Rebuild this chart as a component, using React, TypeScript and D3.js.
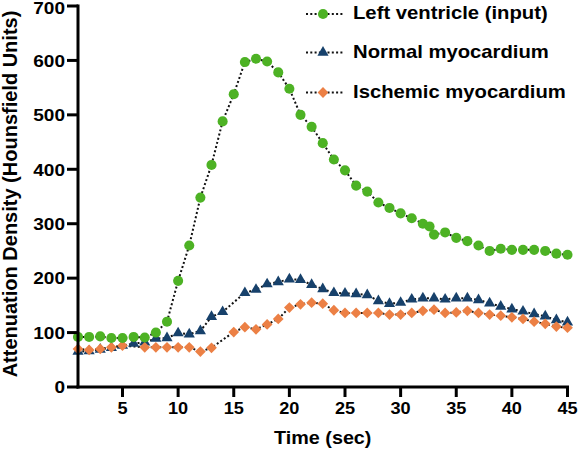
import React from "react";
import * as d3 from "d3";

const lvTime = [1,2,3,4,5,6,7,8,9,10,11,12,13,14,15,16,17,18,19,20,21,22,23,24,25,26,27,28,29,30,31,32,32.6,33,34,35,36,37,38,39,40,41,42,43,44,45];
const lvValue = [92,92,93,90,90,92,91,100,120,195,260,348,408,488,538,597,603,598,578,548,500,478,448,418,398,370,359,339,329,319,310,300,295,280,284,274,268,260,250,254,252,252,252,250,245,243];

const normalTime = [1,2,3,4,5,6,7,8,9,10,11,12,13,14,16,17,18,19,20,21,22,23,24,25,26,27,28,29,30,31,32,33,34,35,36,37,38,39,40,41,42,43,44,45];
const normalValue = [65,66,69,72,76,80,82,89,90,99,97,103,129,138,173,179,189,193,198,197,188,180,173,172,171,169,158,153,155,161,163,163,161,163,163,160,154,148,143,139,134,130,123,119];

const ischTime = [1,2,3,4,5,7,8,9,10,11,12,13,15,16,17,18,19,20,21,22,23,24,25,26,27,28,29,30,31,32,33,34,35,36,37,38,39,40,41,42,43,44,45];
const ischValue = [70,68,70,73,76,73,73,73,73,73,65,72,101,110,106,115,125,146,152,155,153,141,136,136,136,136,133,133,136,140,142,136,137,140,136,133,131,128,125,120,116,111,109];

const xTicks = [5,10,15,20,25,30,35,40,45];
const yTicks = [0,100,200,300,400,500,600,700];

const seriesNames = ["Left ventricle (input)", "Normal myocardium", "Ischemic myocardium"];
const xTitle = "Time (sec)";
const yTitle = "Attenuation Density (Hounsfield Units)";

const W = 583, H = 452;
const x = d3.scaleLinear().domain([1, 45]).range([78, 567.5]);
const y = d3.scaleLinear().domain([0, 700]).range([387, 6]);

const GREEN = "#4db224";
const NAVY = "#17416b";
const ORANGE = "#ec8045";

const circlePath = d3.symbol().type(d3.symbolCircle).size(80)()!;
const triPath = d3.symbol().type(d3.symbolTriangle).size(54)()!;
const sqPath = d3.symbol().type(d3.symbolSquare).size(58)()!;

type Series = { time: number[]; value: number[]; color: string; path: string; rot: number };
const series: Series[] = [
  { time: normalTime, value: normalValue, color: NAVY, path: triPath, rot: 0 },
  { time: ischTime, value: ischValue, color: ORANGE, path: sqPath, rot: 45 },
  { time: lvTime, value: lvValue, color: GREEN, path: circlePath, rot: 0 },
];
const legendOrder = [2, 0, 1];

const FONT = "'Liberation Sans', Arial, sans-serif";

export default function App() {
  const line = d3.line<[number, number]>().x((d) => x(d[0])).y((d) => y(d[1]));
  return (
    <svg width={W} height={H} style={{ position: "absolute", left: 0, top: 0, background: "#fff" }}>
      {series.map((s, i) => (
        <path key={"l" + i}
          d={line(s.time.map((t, k) => [t, s.value[k]] as [number, number]))!}
          fill="none" stroke="#111" strokeWidth={2} strokeDasharray="2 2.3" />
      ))}
      {series.map((s, i) => (
        <g key={"m" + i}>
          {s.time.map((t, k) => (
            <path key={k} d={s.path} fill={s.color}
              transform={`translate(${x(t)},${y(s.value[k])}) rotate(${s.rot})`} />
          ))}
        </g>
      ))}
      <line x1={x(1)} x2={x(1)} y1={y(700) - 1.5} y2={y(0) + 1.5} stroke="#000" strokeWidth={3} />
      <line x1={x(1) - 1.5} x2={x(45) + 1.5} y1={y(0)} y2={y(0)} stroke="#000" strokeWidth={3} />
      {yTicks.map((t) => (
        <g key={"yt" + t}>
          <line x1={x(1) - 11} x2={x(1)} y1={y(t)} y2={y(t)} stroke="#000" strokeWidth={3} />
          <text transform={`translate(${x(1) - 13},${Math.max(y(t) + 6.3, 14)}) scale(1.12,1)`}
            textAnchor="end" fontFamily={FONT} fontWeight="bold" fontSize={17}>{t}</text>
        </g>
      ))}
      {xTicks.map((t) => (
        <g key={"xt" + t}>
          <line x1={x(t)} x2={x(t)} y1={y(0)} y2={y(0) + 10} stroke="#000" strokeWidth={3} />
          <text transform={`translate(${x(t)},414) scale(1.1,1)`} textAnchor="middle" fontFamily={FONT}
            fontWeight="bold" fontSize={16.5}>{t}</text>
        </g>
      ))}
      <text transform={`translate(${(x(1) + x(45)) / 2},444) scale(1.04,1)`} textAnchor="middle" fontFamily={FONT}
        fontWeight="bold" fontSize={19}>{xTitle}</text>
      <text transform={`translate(17,194) rotate(-90)`} textAnchor="middle" fontFamily={FONT}
        fontWeight="bold" fontSize={20}>{yTitle}</text>
      {legendOrder.map((si, r) => {
        const s = series[si];
        const cy = [14, 52.5, 92.5][r];
        const by = [19.3, 58.3, 97.5][r];
        return (
          <g key={"lg" + r}>
            <line x1={306} x2={343} y1={cy} y2={cy} stroke="#111" strokeWidth={2} strokeDasharray="2 2.3" />
            <path d={s.path} fill={s.color} transform={`translate(323,${cy}) rotate(${s.rot})`} />
            <text transform={`translate(353,${by}) scale(1.09,1)`} fontFamily={FONT} fontWeight="bold"
              fontSize={18.6}>{seriesNames[r]}</text>
          </g>
        );
      })}
    </svg>
  );
}
